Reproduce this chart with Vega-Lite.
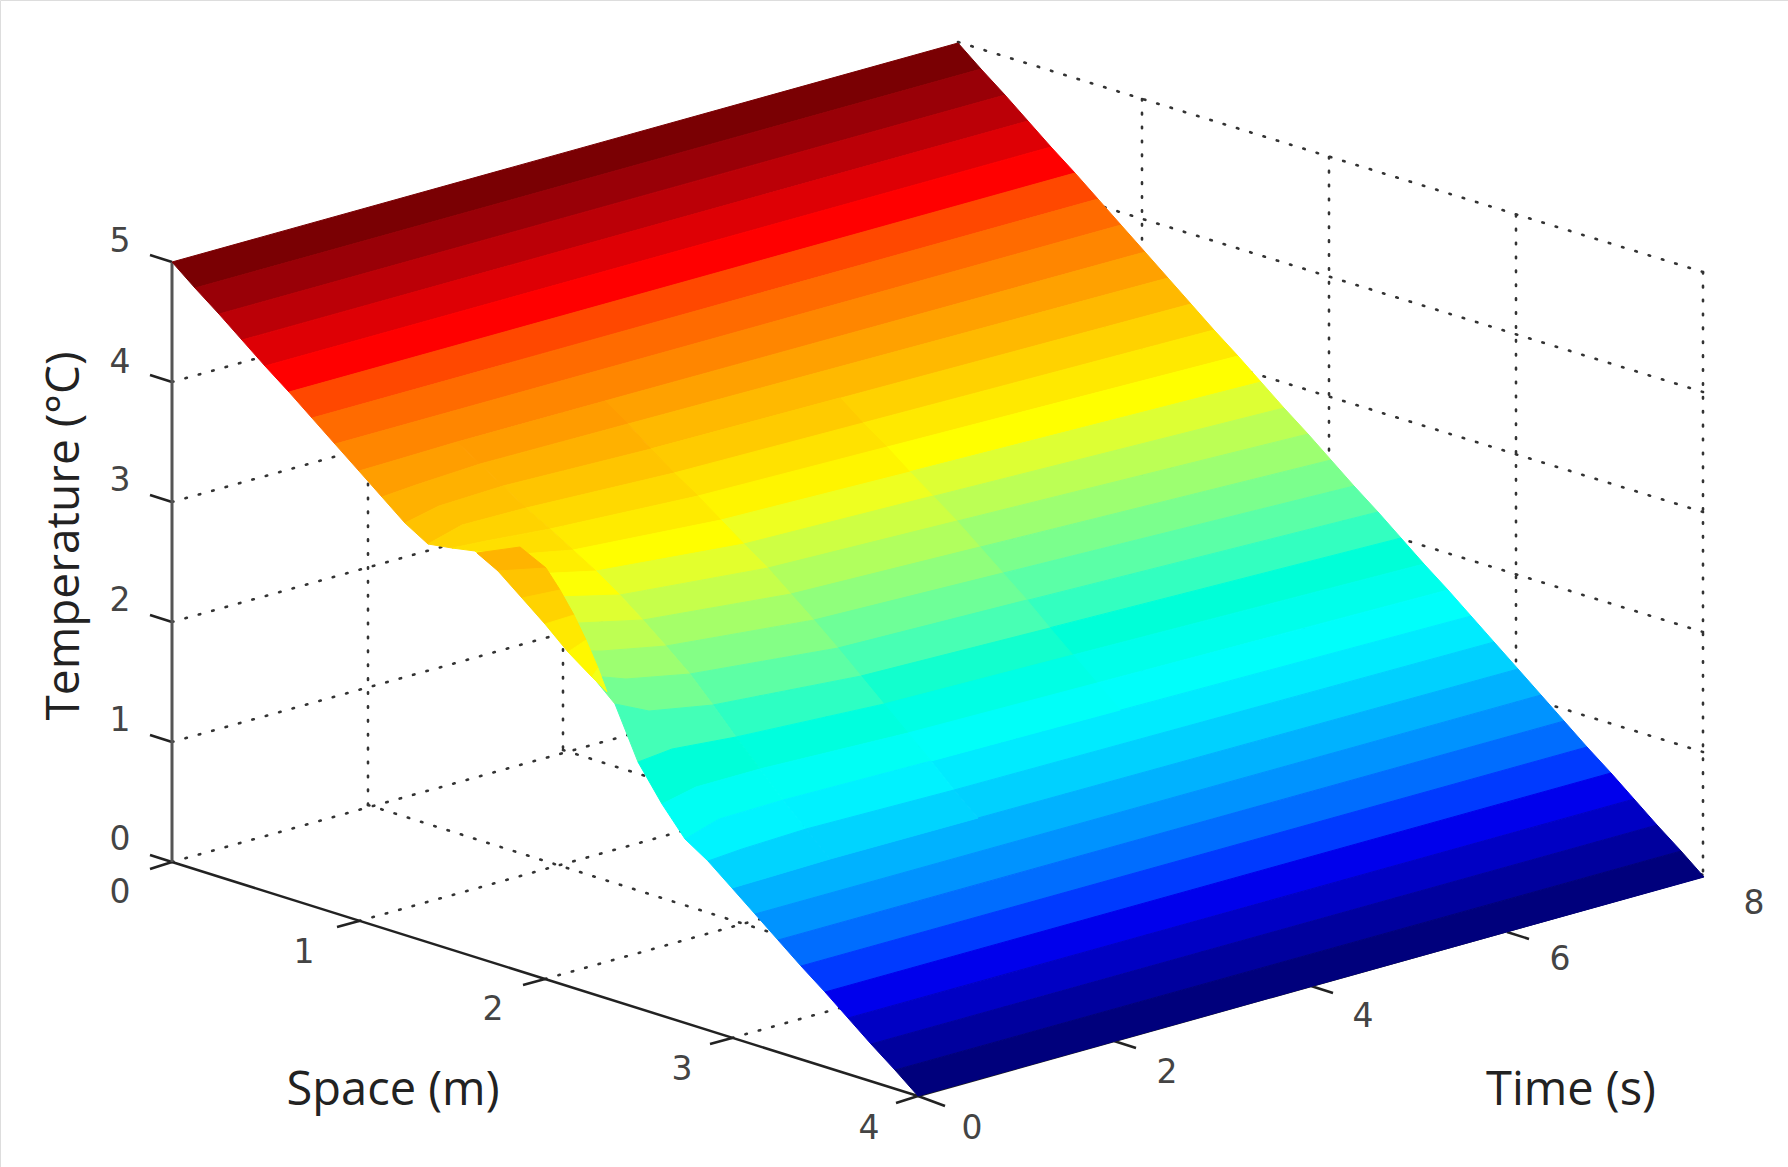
{"$schema":"https://vega.github.io/schema/vega-lite/v6.json","width":1788,"height":1167,"padding":0,"autosize":{"type":"fit","contains":"padding"},"background":"white",
"datasets":{
"grid":[
{"id":"w1","o":1,"x":172,"y":742},{"id":"w1","o":2,"x":958,"y":523},
{"id":"w2","o":1,"x":172,"y":622},{"id":"w2","o":2,"x":958,"y":403},
{"id":"w3","o":1,"x":172,"y":502},{"id":"w3","o":2,"x":958,"y":283},
{"id":"w4","o":1,"x":172,"y":382},{"id":"w4","o":2,"x":958,"y":163},
{"id":"w0","o":1,"x":172,"y":862},{"id":"w0","o":2,"x":958,"y":643},
{"id":"v1","o":1,"x":368,"y":805},{"id":"v1","o":2,"x":368,"y":225},
{"id":"v2","o":1,"x":563,"y":748},{"id":"v2","o":2,"x":563,"y":170},
{"id":"v3","o":1,"x":760,"y":695},{"id":"v3","o":2,"x":760,"y":115},
{"id":"b5","o":1,"x":958,"y":42},{"id":"b5","o":2,"x":1703,"y":272},
{"id":"b4","o":1,"x":958,"y":162},{"id":"b4","o":2,"x":1703,"y":392},
{"id":"b3","o":1,"x":958,"y":282},{"id":"b3","o":2,"x":1703,"y":512},
{"id":"b2","o":1,"x":958,"y":402},{"id":"b2","o":2,"x":1703,"y":632},
{"id":"b1","o":1,"x":958,"y":522},{"id":"b1","o":2,"x":1703,"y":752},
{"id":"b0","o":1,"x":958,"y":642},{"id":"b0","o":2,"x":1703,"y":875},
{"id":"u1","o":1,"x":1142,"y":99},{"id":"u1","o":2,"x":1142,"y":699},
{"id":"u2","o":1,"x":1329,"y":157},{"id":"u2","o":2,"x":1329,"y":757},
{"id":"u3","o":1,"x":1516,"y":215},{"id":"u3","o":2,"x":1516,"y":815},
{"id":"u4","o":1,"x":1703,"y":272},{"id":"u4","o":2,"x":1703,"y":875},
{"id":"f1","o":1,"x":359,"y":921},{"id":"f1","o":2,"x":1145,"y":702},
{"id":"f2","o":1,"x":545,"y":979},{"id":"f2","o":2,"x":1331,"y":760},
{"id":"f3","o":1,"x":732,"y":1038},{"id":"f3","o":2,"x":1518,"y":819},
{"id":"g1","o":1,"x":368,"y":805},{"id":"g1","o":2,"x":1114,"y":1041},
{"id":"g2","o":1,"x":563,"y":750},{"id":"g2","o":2,"x":1311,"y":986},
{"id":"g3","o":1,"x":760,"y":696},{"id":"g3","o":2,"x":1507,"y":932}
],
"axes":[
{"id":"s","o":1,"x":172,"y":862},{"id":"s","o":2,"x":918,"y":1096},
{"id":"t","o":1,"x":918,"y":1096},{"id":"t","o":2,"x":1703,"y":876},
{"id":"k0","o":1,"x":172,"y":262},{"id":"k0","o":2,"x":150,"y":255},
{"id":"k1","o":1,"x":172,"y":382},{"id":"k1","o":2,"x":150,"y":375},
{"id":"k2","o":1,"x":172,"y":502},{"id":"k2","o":2,"x":150,"y":495},
{"id":"k3","o":1,"x":172,"y":622},{"id":"k3","o":2,"x":150,"y":615},
{"id":"k4","o":1,"x":172,"y":742},{"id":"k4","o":2,"x":150,"y":735},
{"id":"k5","o":1,"x":172,"y":862},{"id":"k5","o":2,"x":150,"y":855},
{"id":"m0","o":1,"x":172,"y":862},{"id":"m0","o":2,"x":150,"y":869},
{"id":"m1","o":1,"x":359,"y":921},{"id":"m1","o":2,"x":337,"y":927},
{"id":"m2","o":1,"x":545,"y":979},{"id":"m2","o":2,"x":523,"y":985},
{"id":"m3","o":1,"x":732,"y":1038},{"id":"m3","o":2,"x":710,"y":1044},
{"id":"m4","o":1,"x":918,"y":1096},{"id":"m4","o":2,"x":896,"y":1103},
{"id":"n0","o":1,"x":918,"y":1096},{"id":"n0","o":2,"x":945,"y":1106},
{"id":"n1","o":1,"x":1114,"y":1041},{"id":"n1","o":2,"x":1136,"y":1048},
{"id":"n2","o":1,"x":1311,"y":986},{"id":"n2","o":2,"x":1333,"y":993},
{"id":"n3","o":1,"x":1507,"y":932},{"id":"n3","o":2,"x":1529,"y":939}
],
"axisT":[{"id":"z","o":1,"x":172,"y":262},{"id":"z","o":2,"x":172,"y":862}],
"ticks":[
{"x":120,"y":242,"t":"5"},{"x":120,"y":363,"t":"4"},{"x":120,"y":481,"t":"3"},{"x":120,"y":601,"t":"2"},{"x":120,"y":721,"t":"1"},{"x":120,"y":840,"t":"0"},
{"x":120,"y":893,"t":"0"},{"x":304,"y":953,"t":"1"},{"x":493,"y":1010,"t":"2"},{"x":682,"y":1070,"t":"3"},{"x":869,"y":1129,"t":"4"},
{"x":972,"y":1129,"t":"0"},{"x":1167,"y":1073,"t":"2"},{"x":1363,"y":1017,"t":"4"},{"x":1560,"y":960,"t":"6"},{"x":1754,"y":904,"t":"8"}
],
"titles":[{"x":393,"y":1091,"t":"Space (m)"},{"x":1571,"y":1091,"t":"Time (s)"}],
"ytitle":[{"x":65,"y":536,"t":"Temperature (°C)"}],
"surface":[
{"cell":"b00","order":1,"x":172,"y":262,"temperature":4.92},{"cell":"b00","order":2,"x":958,"y":43,"temperature":4.92},{"cell":"b00","order":3,"x":981,"y":69,"temperature":4.92},{"cell":"b00","order":4,"x":195,"y":288,"temperature":4.92},
{"cell":"b01","order":1,"x":195,"y":288,"temperature":4.77},{"cell":"b01","order":2,"x":981,"y":69,"temperature":4.77},{"cell":"b01","order":3,"x":1005,"y":95,"temperature":4.77},{"cell":"b01","order":4,"x":219,"y":314,"temperature":4.77},
{"cell":"b02","order":1,"x":219,"y":314,"temperature":4.61},{"cell":"b02","order":2,"x":1005,"y":95,"temperature":4.61},{"cell":"b02","order":3,"x":1028,"y":121,"temperature":4.61},{"cell":"b02","order":4,"x":242,"y":340,"temperature":4.61},
{"cell":"b03","order":1,"x":242,"y":340,"temperature":4.45},{"cell":"b03","order":2,"x":1028,"y":121,"temperature":4.45},{"cell":"b03","order":3,"x":1051,"y":147,"temperature":4.45},{"cell":"b03","order":4,"x":265,"y":366,"temperature":4.45},
{"cell":"b04","order":1,"x":265,"y":366,"temperature":4.30},{"cell":"b04","order":2,"x":1051,"y":147,"temperature":4.30},{"cell":"b04","order":3,"x":1075,"y":173,"temperature":4.30},{"cell":"b04","order":4,"x":289,"y":392,"temperature":4.30},
{"cell":"b05","order":1,"x":289,"y":392,"temperature":4.14},{"cell":"b05","order":2,"x":1075,"y":173,"temperature":4.14},{"cell":"b05","order":3,"x":1098,"y":199,"temperature":4.14},{"cell":"b05","order":4,"x":312,"y":418,"temperature":4.14},
{"cell":"b06","order":1,"x":312,"y":418,"temperature":3.98},{"cell":"b06","order":2,"x":1098,"y":199,"temperature":3.98},{"cell":"b06","order":3,"x":1121,"y":225,"temperature":3.98},{"cell":"b06","order":4,"x":335,"y":444,"temperature":3.98},
{"cell":"b07","order":1,"x":335,"y":444,"temperature":3.83},{"cell":"b07","order":2,"x":1121,"y":225,"temperature":3.83},{"cell":"b07","order":3,"x":1145,"y":252,"temperature":3.83},{"cell":"b07","order":4,"x":605,"y":401,"temperature":3.83},{"cell":"b07","order":5,"x":457,"y":442,"temperature":3.83},{"cell":"b07","order":6,"x":393,"y":461,"temperature":3.83},{"cell":"b07","order":7,"x":359,"y":471,"temperature":3.83},
{"cell":"b08","order":1,"x":605,"y":401,"temperature":3.67},{"cell":"b08","order":2,"x":1145,"y":252,"temperature":3.67},{"cell":"b08","order":3,"x":1168,"y":278,"temperature":3.67},{"cell":"b08","order":4,"x":628,"y":424,"temperature":3.67},
{"cell":"b09","order":1,"x":628,"y":424,"temperature":3.52},{"cell":"b09","order":2,"x":1168,"y":278,"temperature":3.52},{"cell":"b09","order":3,"x":1191,"y":304,"temperature":3.52},{"cell":"b09","order":4,"x":651,"y":449,"temperature":3.52},
{"cell":"b10","order":1,"x":651,"y":449,"temperature":3.36},{"cell":"b10","order":2,"x":1191,"y":304,"temperature":3.36},{"cell":"b10","order":3,"x":1214,"y":330,"temperature":3.36},{"cell":"b10","order":4,"x":674,"y":473,"temperature":3.36},
{"cell":"b11","order":1,"x":674,"y":473,"temperature":3.20},{"cell":"b11","order":2,"x":1214,"y":330,"temperature":3.20},{"cell":"b11","order":3,"x":1238,"y":356,"temperature":3.20},{"cell":"b11","order":4,"x":698,"y":496,"temperature":3.20},
{"cell":"b12","order":1,"x":698,"y":496,"temperature":3.05},{"cell":"b12","order":2,"x":1238,"y":356,"temperature":3.05},{"cell":"b12","order":3,"x":1261,"y":382,"temperature":3.05},{"cell":"b12","order":4,"x":721,"y":520,"temperature":3.05},
{"cell":"b13","order":1,"x":721,"y":520,"temperature":2.89},{"cell":"b13","order":2,"x":1261,"y":382,"temperature":2.89},{"cell":"b13","order":3,"x":1284,"y":408,"temperature":2.89},{"cell":"b13","order":4,"x":744,"y":544,"temperature":2.89},
{"cell":"b14","order":1,"x":744,"y":544,"temperature":2.73},{"cell":"b14","order":2,"x":1284,"y":408,"temperature":2.73},{"cell":"b14","order":3,"x":1308,"y":434,"temperature":2.73},{"cell":"b14","order":4,"x":768,"y":568,"temperature":2.73},
{"cell":"b15","order":1,"x":768,"y":568,"temperature":2.58},{"cell":"b15","order":2,"x":1308,"y":434,"temperature":2.58},{"cell":"b15","order":3,"x":1331,"y":460,"temperature":2.58},{"cell":"b15","order":4,"x":791,"y":594,"temperature":2.58},
{"cell":"b16","order":1,"x":791,"y":594,"temperature":2.42},{"cell":"b16","order":2,"x":1331,"y":460,"temperature":2.42},{"cell":"b16","order":3,"x":1354,"y":486,"temperature":2.42},{"cell":"b16","order":4,"x":814,"y":620,"temperature":2.42},
{"cell":"b17","order":1,"x":814,"y":620,"temperature":2.27},{"cell":"b17","order":2,"x":1354,"y":486,"temperature":2.27},{"cell":"b17","order":3,"x":1378,"y":512,"temperature":2.27},{"cell":"b17","order":4,"x":838,"y":648,"temperature":2.27},
{"cell":"b18","order":1,"x":838,"y":648,"temperature":2.11},{"cell":"b18","order":2,"x":1378,"y":512,"temperature":2.11},{"cell":"b18","order":3,"x":1401,"y":538,"temperature":2.11},{"cell":"b18","order":4,"x":861,"y":676,"temperature":2.11},
{"cell":"b19","order":1,"x":861,"y":676,"temperature":1.95},{"cell":"b19","order":2,"x":1401,"y":538,"temperature":1.95},{"cell":"b19","order":3,"x":1424,"y":564,"temperature":1.95},{"cell":"b19","order":4,"x":884,"y":704,"temperature":1.95},
{"cell":"b20","order":1,"x":884,"y":704,"temperature":1.80},{"cell":"b20","order":2,"x":1424,"y":564,"temperature":1.80},{"cell":"b20","order":3,"x":1448,"y":590,"temperature":1.80},{"cell":"b20","order":4,"x":908,"y":733,"temperature":1.80},
{"cell":"b21","order":1,"x":908,"y":733,"temperature":1.64},{"cell":"b21","order":2,"x":1448,"y":590,"temperature":1.64},{"cell":"b21","order":3,"x":1471,"y":616,"temperature":1.64},{"cell":"b21","order":4,"x":931,"y":761,"temperature":1.64},
{"cell":"b22","order":1,"x":931,"y":761,"temperature":1.48},{"cell":"b22","order":2,"x":1471,"y":616,"temperature":1.48},{"cell":"b22","order":3,"x":1494,"y":642,"temperature":1.48},{"cell":"b22","order":4,"x":954,"y":790,"temperature":1.48},
{"cell":"b23","order":1,"x":954,"y":790,"temperature":1.33},{"cell":"b23","order":2,"x":1494,"y":642,"temperature":1.33},{"cell":"b23","order":3,"x":1518,"y":669,"temperature":1.33},{"cell":"b23","order":4,"x":978,"y":818,"temperature":1.33},
{"cell":"b24","order":1,"x":732,"y":888,"temperature":1.17},{"cell":"b24","order":2,"x":766,"y":878,"temperature":1.17},{"cell":"b24","order":3,"x":830,"y":859,"temperature":1.17},{"cell":"b24","order":4,"x":978,"y":818,"temperature":1.17},{"cell":"b24","order":5,"x":1518,"y":669,"temperature":1.17},{"cell":"b24","order":6,"x":1541,"y":695,"temperature":1.17},{"cell":"b24","order":7,"x":755,"y":914,"temperature":1.17},
{"cell":"b25","order":1,"x":755,"y":914,"temperature":1.02},{"cell":"b25","order":2,"x":1541,"y":695,"temperature":1.02},{"cell":"b25","order":3,"x":1564,"y":721,"temperature":1.02},{"cell":"b25","order":4,"x":778,"y":940,"temperature":1.02},
{"cell":"b26","order":1,"x":778,"y":940,"temperature":0.86},{"cell":"b26","order":2,"x":1564,"y":721,"temperature":0.86},{"cell":"b26","order":3,"x":1587,"y":747,"temperature":0.86},{"cell":"b26","order":4,"x":801,"y":966,"temperature":0.86},
{"cell":"b27","order":1,"x":801,"y":966,"temperature":0.70},{"cell":"b27","order":2,"x":1587,"y":747,"temperature":0.70},{"cell":"b27","order":3,"x":1611,"y":773,"temperature":0.70},{"cell":"b27","order":4,"x":825,"y":992,"temperature":0.70},
{"cell":"b28","order":1,"x":825,"y":992,"temperature":0.55},{"cell":"b28","order":2,"x":1611,"y":773,"temperature":0.55},{"cell":"b28","order":3,"x":1634,"y":799,"temperature":0.55},{"cell":"b28","order":4,"x":848,"y":1018,"temperature":0.55},
{"cell":"b29","order":1,"x":848,"y":1018,"temperature":0.39},{"cell":"b29","order":2,"x":1634,"y":799,"temperature":0.39},{"cell":"b29","order":3,"x":1657,"y":825,"temperature":0.39},{"cell":"b29","order":4,"x":871,"y":1044,"temperature":0.39},
{"cell":"b30","order":1,"x":871,"y":1044,"temperature":0.23},{"cell":"b30","order":2,"x":1657,"y":825,"temperature":0.23},{"cell":"b30","order":3,"x":1681,"y":851,"temperature":0.23},{"cell":"b30","order":4,"x":895,"y":1070,"temperature":0.23},
{"cell":"b31","order":1,"x":895,"y":1070,"temperature":0.08},{"cell":"b31","order":2,"x":1681,"y":851,"temperature":0.08},{"cell":"b31","order":3,"x":1704,"y":877,"temperature":0.08},{"cell":"b31","order":4,"x":918,"y":1096,"temperature":0.08},
{"cell":"q10","order":1,"x":651,"y":449,"temperature":3.40},{"cell":"q10","order":2,"x":840,"y":398,"temperature":3.40},{"cell":"q10","order":3,"x":863,"y":423,"temperature":3.40},{"cell":"q10","order":4,"x":674,"y":473,"temperature":3.40},
{"cell":"q11","order":1,"x":674,"y":473,"temperature":3.25},{"cell":"q11","order":2,"x":863,"y":423,"temperature":3.25},{"cell":"q11","order":3,"x":887,"y":447,"temperature":3.25},{"cell":"q11","order":4,"x":698,"y":496,"temperature":3.25},
{"cell":"q12","order":1,"x":698,"y":496,"temperature":3.12},{"cell":"q12","order":2,"x":887,"y":447,"temperature":3.12},{"cell":"q12","order":3,"x":910,"y":472,"temperature":3.12},{"cell":"q12","order":4,"x":721,"y":520,"temperature":3.12},
{"cell":"q13","order":1,"x":721,"y":520,"temperature":2.97},{"cell":"q13","order":2,"x":910,"y":472,"temperature":2.97},{"cell":"q13","order":3,"x":933,"y":496,"temperature":2.97},{"cell":"q13","order":4,"x":744,"y":544,"temperature":2.97},
{"cell":"q14","order":1,"x":744,"y":544,"temperature":2.82},{"cell":"q14","order":2,"x":933,"y":496,"temperature":2.82},{"cell":"q14","order":3,"x":957,"y":521,"temperature":2.82},{"cell":"q14","order":4,"x":768,"y":568,"temperature":2.82},
{"cell":"q15","order":1,"x":768,"y":568,"temperature":2.68},{"cell":"q15","order":2,"x":957,"y":521,"temperature":2.68},{"cell":"q15","order":3,"x":980,"y":547,"temperature":2.68},{"cell":"q15","order":4,"x":791,"y":594,"temperature":2.68},
{"cell":"q16","order":1,"x":791,"y":594,"temperature":2.52},{"cell":"q16","order":2,"x":980,"y":547,"temperature":2.52},{"cell":"q16","order":3,"x":1003,"y":573,"temperature":2.52},{"cell":"q16","order":4,"x":814,"y":620,"temperature":2.52},
{"cell":"q17","order":1,"x":814,"y":620,"temperature":2.36},{"cell":"q17","order":2,"x":1003,"y":573,"temperature":2.36},{"cell":"q17","order":3,"x":1027,"y":600,"temperature":2.36},{"cell":"q17","order":4,"x":838,"y":648,"temperature":2.36},
{"cell":"q18","order":1,"x":838,"y":648,"temperature":2.19},{"cell":"q18","order":2,"x":1027,"y":600,"temperature":2.19},{"cell":"q18","order":3,"x":1050,"y":628,"temperature":2.19},{"cell":"q18","order":4,"x":861,"y":676,"temperature":2.19},
{"cell":"q19","order":1,"x":861,"y":676,"temperature":2.02},{"cell":"q19","order":2,"x":1050,"y":628,"temperature":2.02},{"cell":"q19","order":3,"x":1073,"y":655,"temperature":2.02},{"cell":"q19","order":4,"x":884,"y":704,"temperature":2.02},
{"cell":"q20","order":1,"x":884,"y":704,"temperature":1.85},{"cell":"q20","order":2,"x":1073,"y":655,"temperature":1.85},{"cell":"q20","order":3,"x":1097,"y":683,"temperature":1.85},{"cell":"q20","order":4,"x":908,"y":733,"temperature":1.85},
{"cell":"q21","order":1,"x":908,"y":733,"temperature":1.67},{"cell":"q21","order":2,"x":1097,"y":683,"temperature":1.67},{"cell":"q21","order":3,"x":1120,"y":710,"temperature":1.67},{"cell":"q21","order":4,"x":931,"y":761,"temperature":1.67},
{"cell":"m08","order":1,"x":457,"y":442,"temperature":3.70},{"cell":"m08","order":2,"x":605,"y":401,"temperature":3.70},{"cell":"m08","order":3,"x":628,"y":424,"temperature":3.70},{"cell":"m08","order":4,"x":480,"y":464,"temperature":3.70},
{"cell":"m09","order":1,"x":480,"y":464,"temperature":3.57},{"cell":"m09","order":2,"x":628,"y":424,"temperature":3.57},{"cell":"m09","order":3,"x":651,"y":449,"temperature":3.57},{"cell":"m09","order":4,"x":503,"y":486,"temperature":3.57},
{"cell":"m10","order":1,"x":503,"y":486,"temperature":3.44},{"cell":"m10","order":2,"x":651,"y":449,"temperature":3.44},{"cell":"m10","order":3,"x":674,"y":473,"temperature":3.44},{"cell":"m10","order":4,"x":526,"y":508,"temperature":3.44},
{"cell":"m11","order":1,"x":526,"y":508,"temperature":3.31},{"cell":"m11","order":2,"x":674,"y":473,"temperature":3.31},{"cell":"m11","order":3,"x":698,"y":496,"temperature":3.31},{"cell":"m11","order":4,"x":550,"y":529,"temperature":3.31},
{"cell":"m12","order":1,"x":550,"y":529,"temperature":3.19},{"cell":"m12","order":2,"x":698,"y":496,"temperature":3.19},{"cell":"m12","order":3,"x":721,"y":520,"temperature":3.19},{"cell":"m12","order":4,"x":573,"y":550,"temperature":3.19},
{"cell":"m13","order":1,"x":573,"y":550,"temperature":3.06},{"cell":"m13","order":2,"x":721,"y":520,"temperature":3.06},{"cell":"m13","order":3,"x":744,"y":544,"temperature":3.06},{"cell":"m13","order":4,"x":596,"y":571,"temperature":3.06},
{"cell":"m14","order":1,"x":596,"y":571,"temperature":2.92},{"cell":"m14","order":2,"x":744,"y":544,"temperature":2.92},{"cell":"m14","order":3,"x":768,"y":568,"temperature":2.92},{"cell":"m14","order":4,"x":620,"y":595,"temperature":2.92},
{"cell":"m15","order":1,"x":620,"y":595,"temperature":2.78},{"cell":"m15","order":2,"x":768,"y":568,"temperature":2.78},{"cell":"m15","order":3,"x":791,"y":594,"temperature":2.78},{"cell":"m15","order":4,"x":643,"y":620,"temperature":2.78},
{"cell":"m16","order":1,"x":643,"y":620,"temperature":2.62},{"cell":"m16","order":2,"x":791,"y":594,"temperature":2.62},{"cell":"m16","order":3,"x":814,"y":620,"temperature":2.62},{"cell":"m16","order":4,"x":666,"y":646,"temperature":2.62},
{"cell":"m17","order":1,"x":666,"y":646,"temperature":2.46},{"cell":"m17","order":2,"x":814,"y":620,"temperature":2.46},{"cell":"m17","order":3,"x":838,"y":648,"temperature":2.46},{"cell":"m17","order":4,"x":690,"y":674,"temperature":2.46},
{"cell":"m18","order":1,"x":690,"y":674,"temperature":2.28},{"cell":"m18","order":2,"x":838,"y":648,"temperature":2.28},{"cell":"m18","order":3,"x":861,"y":676,"temperature":2.28},{"cell":"m18","order":4,"x":713,"y":705,"temperature":2.28},
{"cell":"m19","order":1,"x":713,"y":705,"temperature":2.09},{"cell":"m19","order":2,"x":861,"y":676,"temperature":2.09},{"cell":"m19","order":3,"x":884,"y":704,"temperature":2.09},{"cell":"m19","order":4,"x":736,"y":737,"temperature":2.09},
{"cell":"m20","order":1,"x":736,"y":737,"temperature":1.90},{"cell":"m20","order":2,"x":884,"y":704,"temperature":1.90},{"cell":"m20","order":3,"x":908,"y":733,"temperature":1.90},{"cell":"m20","order":4,"x":760,"y":769,"temperature":1.90},
{"cell":"m21","order":1,"x":760,"y":769,"temperature":1.71},{"cell":"m21","order":2,"x":908,"y":733,"temperature":1.71},{"cell":"m21","order":3,"x":931,"y":761,"temperature":1.71},{"cell":"m21","order":4,"x":783,"y":800,"temperature":1.71},
{"cell":"m22","order":1,"x":783,"y":800,"temperature":1.52},{"cell":"m22","order":2,"x":931,"y":761,"temperature":1.52},{"cell":"m22","order":3,"x":954,"y":790,"temperature":1.52},{"cell":"m22","order":4,"x":806,"y":829,"temperature":1.52},
{"cell":"m23","order":1,"x":806,"y":829,"temperature":1.35},{"cell":"m23","order":2,"x":954,"y":790,"temperature":1.35},{"cell":"m23","order":3,"x":978,"y":818,"temperature":1.35},{"cell":"m23","order":4,"x":830,"y":859,"temperature":1.35},
{"cell":"n08","order":1,"x":359,"y":471,"temperature":3.69},{"cell":"n08","order":2,"x":393,"y":461,"temperature":3.69},{"cell":"n08","order":3,"x":457,"y":442,"temperature":3.69},{"cell":"n08","order":4,"x":480,"y":464,"temperature":3.69},{"cell":"n08","order":5,"x":416,"y":485,"temperature":3.69},{"cell":"n08","order":6,"x":382,"y":497,"temperature":3.69},
{"cell":"n09","order":1,"x":382,"y":497,"temperature":3.57},{"cell":"n09","order":2,"x":416,"y":485,"temperature":3.57},{"cell":"n09","order":3,"x":480,"y":464,"temperature":3.57},{"cell":"n09","order":4,"x":503,"y":486,"temperature":3.57},{"cell":"n09","order":5,"x":439,"y":506,"temperature":3.57},{"cell":"n09","order":6,"x":405,"y":523,"temperature":3.57},
{"cell":"n10","order":1,"x":405,"y":523,"temperature":3.46},{"cell":"n10","order":2,"x":439,"y":506,"temperature":3.46},{"cell":"n10","order":3,"x":503,"y":486,"temperature":3.46},{"cell":"n10","order":4,"x":526,"y":508,"temperature":3.46},{"cell":"n10","order":5,"x":462,"y":525,"temperature":3.46},{"cell":"n10","order":6,"x":428,"y":544,"temperature":3.46},
{"cell":"n11","order":1,"x":428,"y":544,"temperature":3.35},{"cell":"n11","order":2,"x":462,"y":525,"temperature":3.35},{"cell":"n11","order":3,"x":526,"y":508,"temperature":3.35},{"cell":"n11","order":4,"x":550,"y":529,"temperature":3.35},{"cell":"n11","order":5,"x":486,"y":541,"temperature":3.35},{"cell":"n11","order":6,"x":452,"y":548,"temperature":3.35},
{"cell":"n12","order":1,"x":452,"y":548,"temperature":3.27},{"cell":"n12","order":2,"x":486,"y":541,"temperature":3.27},{"cell":"n12","order":3,"x":550,"y":529,"temperature":3.27},{"cell":"n12","order":4,"x":573,"y":550,"temperature":3.27},{"cell":"n12","order":5,"x":509,"y":555,"temperature":3.27},{"cell":"n12","order":6,"x":475,"y":551,"temperature":3.27},
{"cell":"n13","order":1,"x":475,"y":551,"temperature":3.17},{"cell":"n13","order":2,"x":509,"y":555,"temperature":3.17},{"cell":"n13","order":3,"x":573,"y":550,"temperature":3.17},{"cell":"n13","order":4,"x":596,"y":571,"temperature":3.17},{"cell":"n13","order":5,"x":532,"y":574,"temperature":3.17},{"cell":"n13","order":6,"x":498,"y":570,"temperature":3.17},
{"cell":"n14","order":1,"x":498,"y":570,"temperature":3.04},{"cell":"n14","order":2,"x":532,"y":574,"temperature":3.04},{"cell":"n14","order":3,"x":596,"y":571,"temperature":3.04},{"cell":"n14","order":4,"x":620,"y":595,"temperature":3.04},{"cell":"n14","order":5,"x":556,"y":597,"temperature":3.04},{"cell":"n14","order":6,"x":522,"y":597,"temperature":3.04},
{"cell":"n15","order":1,"x":522,"y":597,"temperature":2.90},{"cell":"n15","order":2,"x":556,"y":597,"temperature":2.90},{"cell":"n15","order":3,"x":620,"y":595,"temperature":2.90},{"cell":"n15","order":4,"x":643,"y":620,"temperature":2.90},{"cell":"n15","order":5,"x":579,"y":623,"temperature":2.90},{"cell":"n15","order":6,"x":545,"y":623,"temperature":2.90},
{"cell":"n16","order":1,"x":545,"y":623,"temperature":2.74},{"cell":"n16","order":2,"x":579,"y":623,"temperature":2.74},{"cell":"n16","order":3,"x":643,"y":620,"temperature":2.74},{"cell":"n16","order":4,"x":666,"y":646,"temperature":2.74},{"cell":"n16","order":5,"x":602,"y":651,"temperature":2.74},{"cell":"n16","order":6,"x":568,"y":651,"temperature":2.74},
{"cell":"n17","order":1,"x":568,"y":651,"temperature":2.58},{"cell":"n17","order":2,"x":602,"y":651,"temperature":2.58},{"cell":"n17","order":3,"x":666,"y":646,"temperature":2.58},{"cell":"n17","order":4,"x":690,"y":674,"temperature":2.58},{"cell":"n17","order":5,"x":626,"y":679,"temperature":2.58},{"cell":"n17","order":6,"x":592,"y":676,"temperature":2.58},
{"cell":"n18","order":1,"x":592,"y":676,"temperature":2.39},{"cell":"n18","order":2,"x":626,"y":679,"temperature":2.39},{"cell":"n18","order":3,"x":690,"y":674,"temperature":2.39},{"cell":"n18","order":4,"x":713,"y":705,"temperature":2.39},{"cell":"n18","order":5,"x":649,"y":711,"temperature":2.39},{"cell":"n18","order":6,"x":615,"y":704,"temperature":2.39},
{"cell":"n19","order":1,"x":615,"y":704,"temperature":2.17},{"cell":"n19","order":2,"x":649,"y":711,"temperature":2.17},{"cell":"n19","order":3,"x":713,"y":705,"temperature":2.17},{"cell":"n19","order":4,"x":736,"y":737,"temperature":2.17},{"cell":"n19","order":5,"x":672,"y":749,"temperature":2.17},{"cell":"n19","order":6,"x":638,"y":762,"temperature":2.17},
{"cell":"n20","order":1,"x":638,"y":762,"temperature":1.94},{"cell":"n20","order":2,"x":672,"y":749,"temperature":1.94},{"cell":"n20","order":3,"x":736,"y":737,"temperature":1.94},{"cell":"n20","order":4,"x":760,"y":769,"temperature":1.94},{"cell":"n20","order":5,"x":696,"y":787,"temperature":1.94},{"cell":"n20","order":6,"x":662,"y":804,"temperature":1.94},
{"cell":"n21","order":1,"x":662,"y":804,"temperature":1.72},{"cell":"n21","order":2,"x":696,"y":787,"temperature":1.72},{"cell":"n21","order":3,"x":760,"y":769,"temperature":1.72},{"cell":"n21","order":4,"x":783,"y":800,"temperature":1.72},{"cell":"n21","order":5,"x":719,"y":819,"temperature":1.72},{"cell":"n21","order":6,"x":685,"y":839,"temperature":1.72},
{"cell":"n22","order":1,"x":685,"y":839,"temperature":1.53},{"cell":"n22","order":2,"x":719,"y":819,"temperature":1.53},{"cell":"n22","order":3,"x":783,"y":800,"temperature":1.53},{"cell":"n22","order":4,"x":806,"y":829,"temperature":1.53},{"cell":"n22","order":5,"x":742,"y":849,"temperature":1.53},{"cell":"n22","order":6,"x":708,"y":861,"temperature":1.53},
{"cell":"n23","order":1,"x":708,"y":861,"temperature":1.35},{"cell":"n23","order":2,"x":742,"y":849,"temperature":1.35},{"cell":"n23","order":3,"x":806,"y":829,"temperature":1.35},{"cell":"n23","order":4,"x":830,"y":859,"temperature":1.35},{"cell":"n23","order":5,"x":766,"y":878,"temperature":1.35},{"cell":"n23","order":6,"x":732,"y":888,"temperature":1.35},
{"cell":"w1","order":1,"x":477,"y":553,"temperature":3.55},{"cell":"w1","order":2,"x":520,"y":547,"temperature":3.55},{"cell":"w1","order":3,"x":546,"y":568,"temperature":3.55},{"cell":"w1","order":4,"x":498,"y":571,"temperature":3.55},
{"cell":"w2","order":1,"x":498,"y":571,"temperature":3.45},{"cell":"w2","order":2,"x":546,"y":568,"temperature":3.45},{"cell":"w2","order":3,"x":560,"y":590,"temperature":3.45},{"cell":"w2","order":4,"x":522,"y":598,"temperature":3.45},
{"cell":"w3","order":1,"x":522,"y":598,"temperature":3.35},{"cell":"w3","order":2,"x":560,"y":590,"temperature":3.35},{"cell":"w3","order":3,"x":574,"y":615,"temperature":3.35},{"cell":"w3","order":4,"x":545,"y":624,"temperature":3.35},
{"cell":"w4","order":1,"x":545,"y":624,"temperature":3.2},{"cell":"w4","order":2,"x":574,"y":615,"temperature":3.2},{"cell":"w4","order":3,"x":586,"y":640,"temperature":3.2},{"cell":"w4","order":4,"x":568,"y":652,"temperature":3.2},
{"cell":"w5","order":1,"x":568,"y":652,"temperature":3.1},{"cell":"w5","order":2,"x":586,"y":640,"temperature":3.1},{"cell":"w5","order":3,"x":598,"y":668,"temperature":3.1},{"cell":"w5","order":4,"x":592,"y":677,"temperature":3.1},
{"cell":"w6","order":1,"x":592,"y":677,"temperature":3.0},{"cell":"w6","order":2,"x":598,"y":668,"temperature":3.0},{"cell":"w6","order":3,"x":607,"y":692,"temperature":3.0}
]},
"encoding":{
"x":{"field":"x","type":"quantitative","scale":{"domain":[0,1788],"nice":false,"zero":false},"axis":null},
"y":{"field":"y","type":"quantitative","scale":{"domain":[1167,0],"nice":false,"zero":false},"axis":null}
},
"layer":[
{"data":{"name":"grid"},"mark":{"type":"line","stroke":"#333333","strokeWidth":2.6,"strokeDash":[1.5,12.4],"strokeCap":"round"},"encoding":{"detail":{"field":"id"},"order":{"field":"o","type":"quantitative"}}},
{"data":{"name":"axes"},"mark":{"type":"line","stroke":"#222222","strokeWidth":2.5},"encoding":{"detail":{"field":"id"},"order":{"field":"o","type":"quantitative"}}},
{"data":{"name":"axisT"},"mark":{"type":"line","stroke":"#555555","strokeWidth":3},"encoding":{"detail":{"field":"id"},"order":{"field":"o","type":"quantitative"}}},
{"data":{"name":"surface"},"mark":{"type":"line","interpolate":"linear-closed","strokeWidth":1},"encoding":{
"detail":{"field":"cell"},"order":{"field":"order","type":"quantitative"},
"fill":{"field":"temperature","type":"quantitative","legend":null,"scale":{"domain":[0,0.625,1.6,3.05,4.3,5],"range":["#00006a","#0000ff","#00ffff","#ffff00","#ff0000","#6a0000"]}},
"stroke":{"field":"temperature","type":"quantitative","legend":null,"scale":{"domain":[0,0.625,1.6,3.05,4.3,5],"range":["#00006a","#0000ff","#00ffff","#ffff00","#ff0000","#6a0000"]}}}},
{"data":{"name":"ticks"},"mark":{"type":"text","font":"DejaVu Sans","fontSize":33,"fill":"#444444","align":"center","baseline":"middle"},"encoding":{"text":{"field":"t"}}},
{"data":{"name":"titles"},"mark":{"type":"text","font":"Open Sans","fontSize":47,"fill":"#222222","align":"center","baseline":"middle"},"encoding":{"text":{"field":"t"}}},
{"data":{"name":"ytitle"},"mark":{"type":"text","font":"Open Sans","fontSize":46,"fill":"#222222","align":"center","baseline":"middle","angle":270},"encoding":{"text":{"field":"t"}}}
]}
